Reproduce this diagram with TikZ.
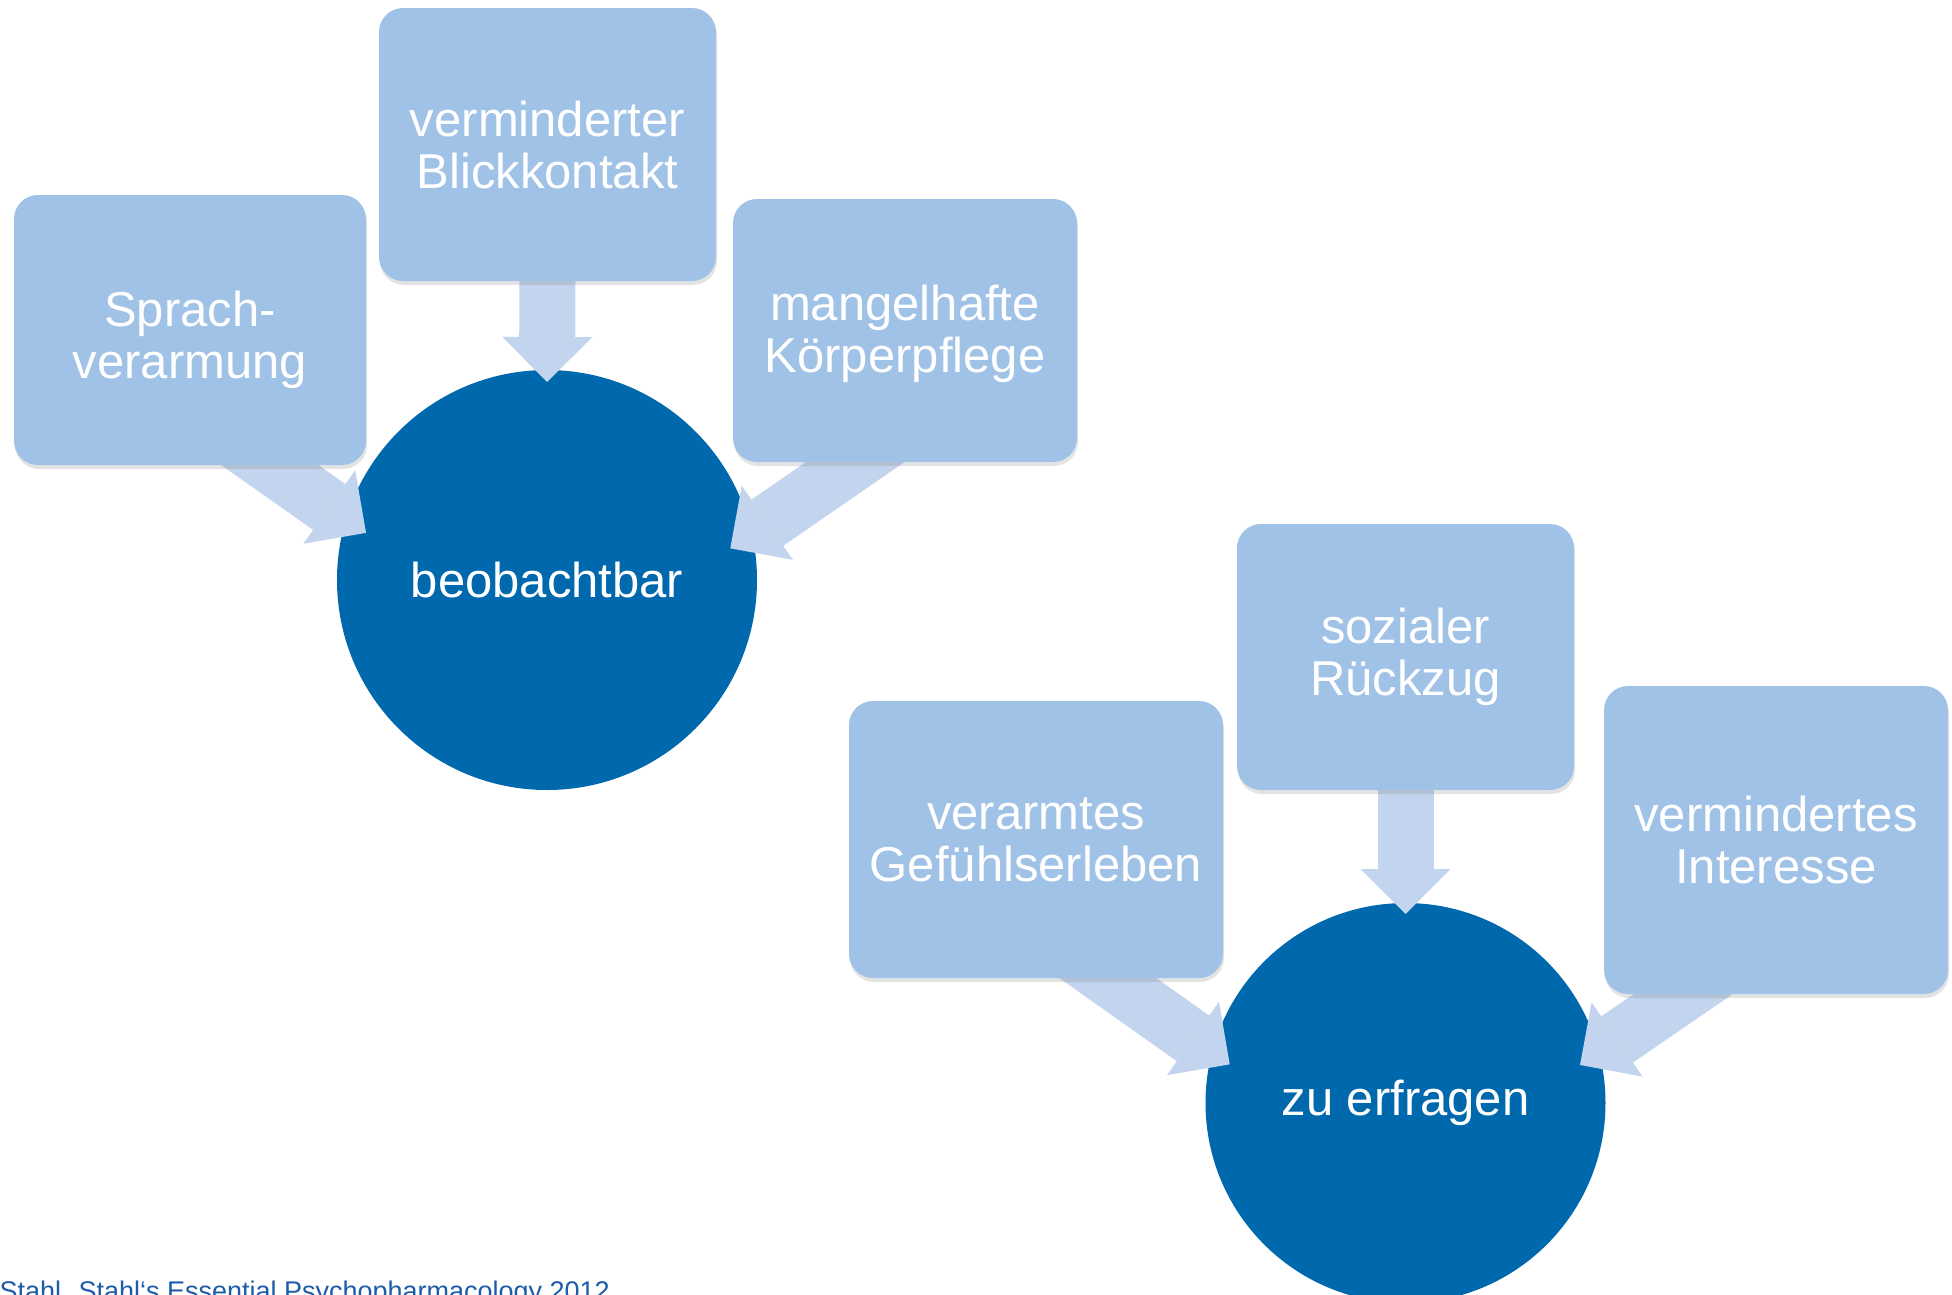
\documentclass[tikz,border=0pt]{standalone}
\usepackage{fontspec}
\setmainfont{Liberation Sans}
\usepackage{tikz}
\usetikzlibrary{arrows.meta, calc, shadows}

\definecolor{kastenblau}{RGB}{160,194,231}
\definecolor{kreisblau}{RGB}{0,104,172}
\definecolor{pfeilblau}{RGB}{194,212,238}
\definecolor{quellblau}{RGB}{28,92,168}

\pgfdeclarelayer{kreise}
\pgfdeclarelayer{pfeile}
\pgfsetlayers{kreise,pfeile,main}

\tikzset{
  kasten/.style={rectangle, rounded corners=24pt, fill=kastenblau, text=white, align=center,
    inner sep=0pt, font=\fontsize{49}{52}\selectfont,
    drop shadow={opacity=0.22, shadow xshift=1pt, shadow yshift=-4pt}},
  kreis/.style={circle, fill=kreisblau, text=white, inner sep=0pt, font=\fontsize{49}{52}\selectfont},
  pfeil/.style={draw=pfeilblau, line width=56pt, shorten <=-40pt,
    -{Triangle[width=90pt, length=45pt, line width=0pt]}}
}

\begin{document}
\begin{tikzpicture}[x=1pt, y=1pt]
\useasboundingbox (0,0) rectangle (1952,-1294);

% Kreise
\begin{pgfonlayer}{kreise}
\node[kreis, minimum size=420pt] (beob) at (547,-580) {beobachtbar};
\node[kreis, minimum size=400pt] (frag) at (1405.5,-1103) {zu erfragen};
\end{pgfonlayer}

% Kaesten
\node[kasten, minimum width=352pt, minimum height=270pt] (sprach) at (190,-330) {\rule{0pt}{55pt}Sprach-\\verarmung};
\node[kasten, minimum width=337pt, minimum height=273pt] (blick) at (547.5,-144.5) {verminderter\\Blickkontakt};
\node[kasten, minimum width=344pt, minimum height=263pt] (pflege) at (905,-330.5) {\rule{0pt}{43pt}mangelhafte\\Körperpflege};
\node[kasten, minimum width=374pt, minimum height=277pt] (gefuehl) at (1036,-839.5) {verarmtes\\Gefühlserleben};
\node[kasten, minimum width=337pt, minimum height=266pt] (rueckzug) at (1405.5,-657) {sozialer\\Rückzug};
\node[kasten, minimum width=344pt, minimum height=308pt] (interesse) at (1776,-840) {vermindertes\\Interesse};

% Pfeile
\begin{pgfonlayer}{pfeile}
\draw[pfeil] ([xshift=80pt]sprach.south) -- ($(beob.center)+(165.4:187)$);
\draw[pfeil] (blick.south) -- ($(beob.center)+(90:198)$);
\draw[pfeil] ([xshift=-50pt]pflege.south) -- ($(beob.center)+(9.8:186)$);
\draw[pfeil] ([xshift=72pt]gefuehl.south) -- ($(frag.center)+(167.6:180)$);
\draw[pfeil] (rueckzug.south) -- ($(frag.center)+(90:189)$);
\draw[pfeil] ([xshift=-93pt]interesse.south) -- ($(frag.center)+(12.3:178.6)$);
\end{pgfonlayer}

\node[anchor=base west, text=quellblau, font=\fontsize{27}{30}\selectfont] (quelle) at (-4,-1300) {Stahl. Stahl‘s Essential Psychopharmacology 2012};
\end{tikzpicture}
\end{document}
